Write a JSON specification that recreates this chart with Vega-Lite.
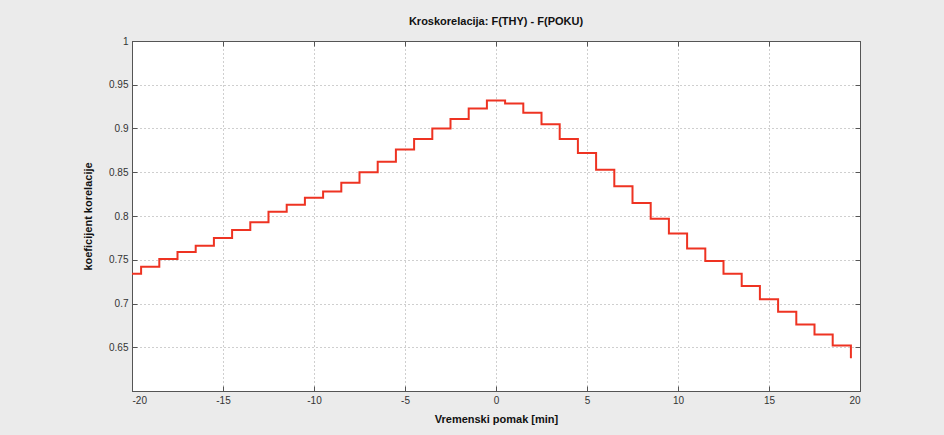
{
  "$schema": "https://vega.github.io/schema/vega-lite/v6.json",
  "width": 728,
  "height": 350,
  "autosize": {"type": "none"},
  "padding": {"left": 132, "top": 41, "right": 84, "bottom": 44},
  "background": "#ebebeb",
  "title": {"text": "Kroskorelacija: F(THY) - F(POKU)", "fontSize": 11, "fontWeight": "bold", "font": "Liberation Sans", "color": "#111111", "offset": 9, "anchor": "middle"},
  "config": {
    "view": {"fill": "white", "stroke": "#555555", "strokeWidth": 1},
    "axis": {
      "labelFont": "Liberation Sans",
      "labelFontSize": 10,
      "labelColor": "#333333",
      "titleFont": "Liberation Sans",
      "titleFontSize": 11,
      "titleFontWeight": "bold",
      "titleColor": "#111111",
      "domainColor": "#555555",
      "tickColor": "#555555",
      "gridColor": "#888888",
      "gridDash": [1, 3],
      "gridWidth": 1,
      "gridOpacity": 0.8
    }
  },
  "data": {
    "values": [
      {"t": -20, "r": 0.734},
      {"t": -19.5, "r": 0.742},
      {"t": -18.5, "r": 0.751},
      {"t": -17.5, "r": 0.759},
      {"t": -16.5, "r": 0.766},
      {"t": -15.5, "r": 0.775},
      {"t": -14.5, "r": 0.784},
      {"t": -13.5, "r": 0.793},
      {"t": -12.5, "r": 0.805},
      {"t": -11.5, "r": 0.813},
      {"t": -10.5, "r": 0.821},
      {"t": -9.5, "r": 0.828},
      {"t": -8.5, "r": 0.838},
      {"t": -7.5, "r": 0.85},
      {"t": -6.5, "r": 0.862},
      {"t": -5.5, "r": 0.876},
      {"t": -4.5, "r": 0.888},
      {"t": -3.5, "r": 0.9},
      {"t": -2.5, "r": 0.911},
      {"t": -1.5, "r": 0.923},
      {"t": -0.5, "r": 0.932},
      {"t": 0.5, "r": 0.9285},
      {"t": 1.5, "r": 0.918},
      {"t": 2.5, "r": 0.905},
      {"t": 3.5, "r": 0.888},
      {"t": 4.5, "r": 0.872},
      {"t": 5.5, "r": 0.853},
      {"t": 6.5, "r": 0.834},
      {"t": 7.5, "r": 0.815},
      {"t": 8.5, "r": 0.797},
      {"t": 9.5, "r": 0.78},
      {"t": 10.5, "r": 0.763},
      {"t": 11.5, "r": 0.7485},
      {"t": 12.5, "r": 0.734},
      {"t": 13.5, "r": 0.72},
      {"t": 14.5, "r": 0.705},
      {"t": 15.5, "r": 0.6905},
      {"t": 16.5, "r": 0.676},
      {"t": 17.5, "r": 0.6645},
      {"t": 18.5, "r": 0.652},
      {"t": 19.5, "r": 0.6375}
    ]
  },
  "layer": [
    {
      "mark": {"type": "line", "interpolate": "step-after", "color": "#ee3322", "strokeWidth": 2},
      "encoding": {
        "x": {
          "field": "t", "type": "quantitative",
          "scale": {"domain": [-20, 20], "nice": false, "zero": false},
          "axis": {"orient": "bottom", "values": [-20, -15, -10, -5, 0, 5, 10, 15, 20], "title": "Vremenski pomak [min]", "tickSize": -5, "labelPadding": 9, "titlePadding": 8, "labelExpr": "toString(datum.value)"}
        },
        "y": {
          "field": "r", "type": "quantitative",
          "scale": {"domain": [0.6, 1], "nice": false, "zero": false},
          "axis": {"orient": "left", "values": [0.6, 0.65, 0.7, 0.75, 0.8, 0.85, 0.9, 0.95, 1], "title": "koeficijent korelacije", "tickSize": -5, "labelPadding": 9, "titlePadding": 15, "format": "~g", "labelExpr": "datum.value < 0.61 ? '' : datum.label"}
        }
      }
    },
    {
      "mark": {"type": "line", "interpolate": "step-after", "opacity": 0},
      "encoding": {
        "x": {"field": "t", "type": "quantitative", "axis": {"orient": "top", "values": [-20, -15, -10, -5, 0, 5, 10, 15, 20], "labels": false, "grid": false, "title": null, "tickSize": -5}},
        "y": {"field": "r", "type": "quantitative", "axis": {"orient": "right", "values": [0.6, 0.65, 0.7, 0.75, 0.8, 0.85, 0.9, 0.95, 1], "labels": false, "grid": false, "title": null, "tickSize": -5}}
      }
    }
  ],
  "resolve": {"axis": {"x": "independent", "y": "independent"}}
}
